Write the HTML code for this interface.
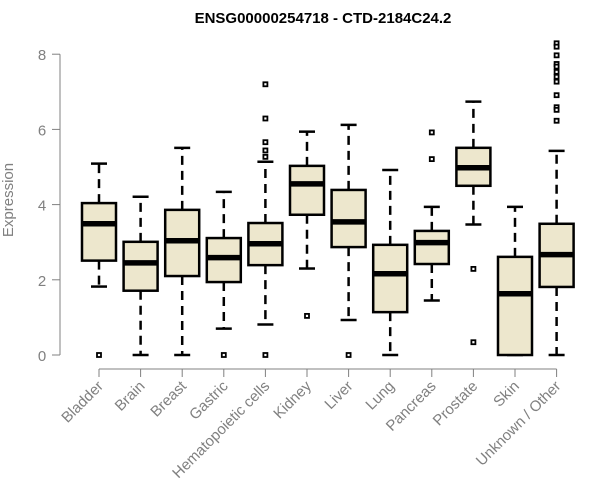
<!DOCTYPE html>
<html><head><meta charset="utf-8"><style>
body{margin:0;background:#fff}
svg{display:block;font-family:"Liberation Sans",sans-serif}
</style></head><body>
<svg id="chart" width="600" height="500" viewBox="0 0 600 500" xmlns="http://www.w3.org/2000/svg">
<text x="323" y="23" text-anchor="middle" font-weight="bold" font-size="15">ENSG00000254718 - CTD-2184C24.2</text>
<text transform="translate(13,200) rotate(-90)" text-anchor="middle" font-size="15" fill="#808080">Expression</text>
<g id="yaxis"></g>
<g id="xaxis"></g>
<g id="boxes"></g>
</svg>
<script>
const categories=["Bladder","Brain","Breast","Gastric","Hematopoietic cells","Kidney","Liver","Lung","Pancreas","Prostate","Skin","Unknown / Other"];
const whiskerLow=[1.82,0,0,0.70,0.81,2.30,0.93,0,1.45,3.47,0,0];
const q1=[2.51,1.71,2.10,1.94,2.39,3.73,2.87,1.14,2.42,4.50,0,1.81];
const medians=[3.49,2.45,3.04,2.59,2.96,4.55,3.54,2.16,2.99,4.98,1.63,2.67];
const q3=[4.04,3.01,3.86,3.11,3.51,5.03,4.39,2.93,3.30,5.51,2.61,3.49];
const whiskerHigh=[5.09,4.21,5.51,4.34,5.14,5.94,6.12,4.92,3.94,6.74,3.94,5.43];
const outliers=[[0],[],[],[0],[0,7.2,6.29,5.66,5.44,5.27],[1.04],[0],[],[5.92,5.21],[2.29,0.34],[],[8.29,8.2,7.97,7.74,7.67,7.53,7.4,7.27,6.91,6.59,6.52,6.23]];
const yTicks=[0,2,4,6,8];
const NS="http://www.w3.org/2000/svg";
const y=v=>355-v*37.6;
const x=i=>99+i*41.6;
function mk(tag,attrs,parent){const e=document.createElementNS(NS,tag);for(const k in attrs)e.setAttribute(k,attrs[k]);parent.appendChild(e);return e;}
const ya=document.getElementById('yaxis'),xa=document.getElementById('xaxis'),bx=document.getElementById('boxes');
mk('line',{x1:60,x2:60,y1:y(0),y2:y(8),stroke:'#808080'},ya);
yTicks.forEach(t=>{
  mk('line',{x1:52,x2:60,y1:y(t),y2:y(t),stroke:'#808080'},ya);
  const tx=mk('text',{x:42,y:y(t)+6,'text-anchor':'middle','font-size':15,fill:'#808080'},ya);
  tx.textContent=t;
  
  
});
mk('line',{x1:x(0),x2:x(categories.length-1),y1:369,y2:369,stroke:'#808080'},xa);
categories.forEach((c,i)=>{
  const cx=x(i);
  mk('line',{x1:cx,x2:cx,y1:369,y2:377,stroke:'#808080'},xa);
  const tx=mk('text',{transform:`translate(${cx+5},${387}) rotate(-45)`,'text-anchor':'end','font-size':15,fill:'#808080'},xa);
  tx.textContent=c;
  
  
  const g=mk('g',{},bx);
  
  
  mk('line',{x1:cx,x2:cx,y1:y(q3[i]),y2:y(whiskerHigh[i]),stroke:'#000','stroke-width':2.5,'stroke-dasharray':'9,6'},g);
  mk('line',{x1:cx,x2:cx,y1:y(q1[i]),y2:y(whiskerLow[i]),stroke:'#000','stroke-width':2.5,'stroke-dasharray':'9,6'},g);
  mk('line',{x1:cx-8,x2:cx+8,y1:y(whiskerHigh[i]),y2:y(whiskerHigh[i]),stroke:'#000','stroke-width':2.5},g);
  mk('line',{x1:cx-8,x2:cx+8,y1:y(whiskerLow[i]),y2:y(whiskerLow[i]),stroke:'#000','stroke-width':2.5},g);
  mk('rect',{x:cx-17,y:y(q3[i]),width:34,height:y(q1[i])-y(q3[i]),fill:'#ede7cd',stroke:'#000','stroke-width':2.5},g);
  mk('line',{x1:cx-17,x2:cx+17,y1:y(medians[i]),y2:y(medians[i]),stroke:'#000','stroke-width':5.5},g);
  outliers[i].forEach(o=>{
    const p=mk('rect',{x:cx-2,y:y(o)-2,width:4,height:4,fill:'#fff',stroke:'#000','stroke-width':1.8},g);
    
    
  });
});
</script>
</body></html>
